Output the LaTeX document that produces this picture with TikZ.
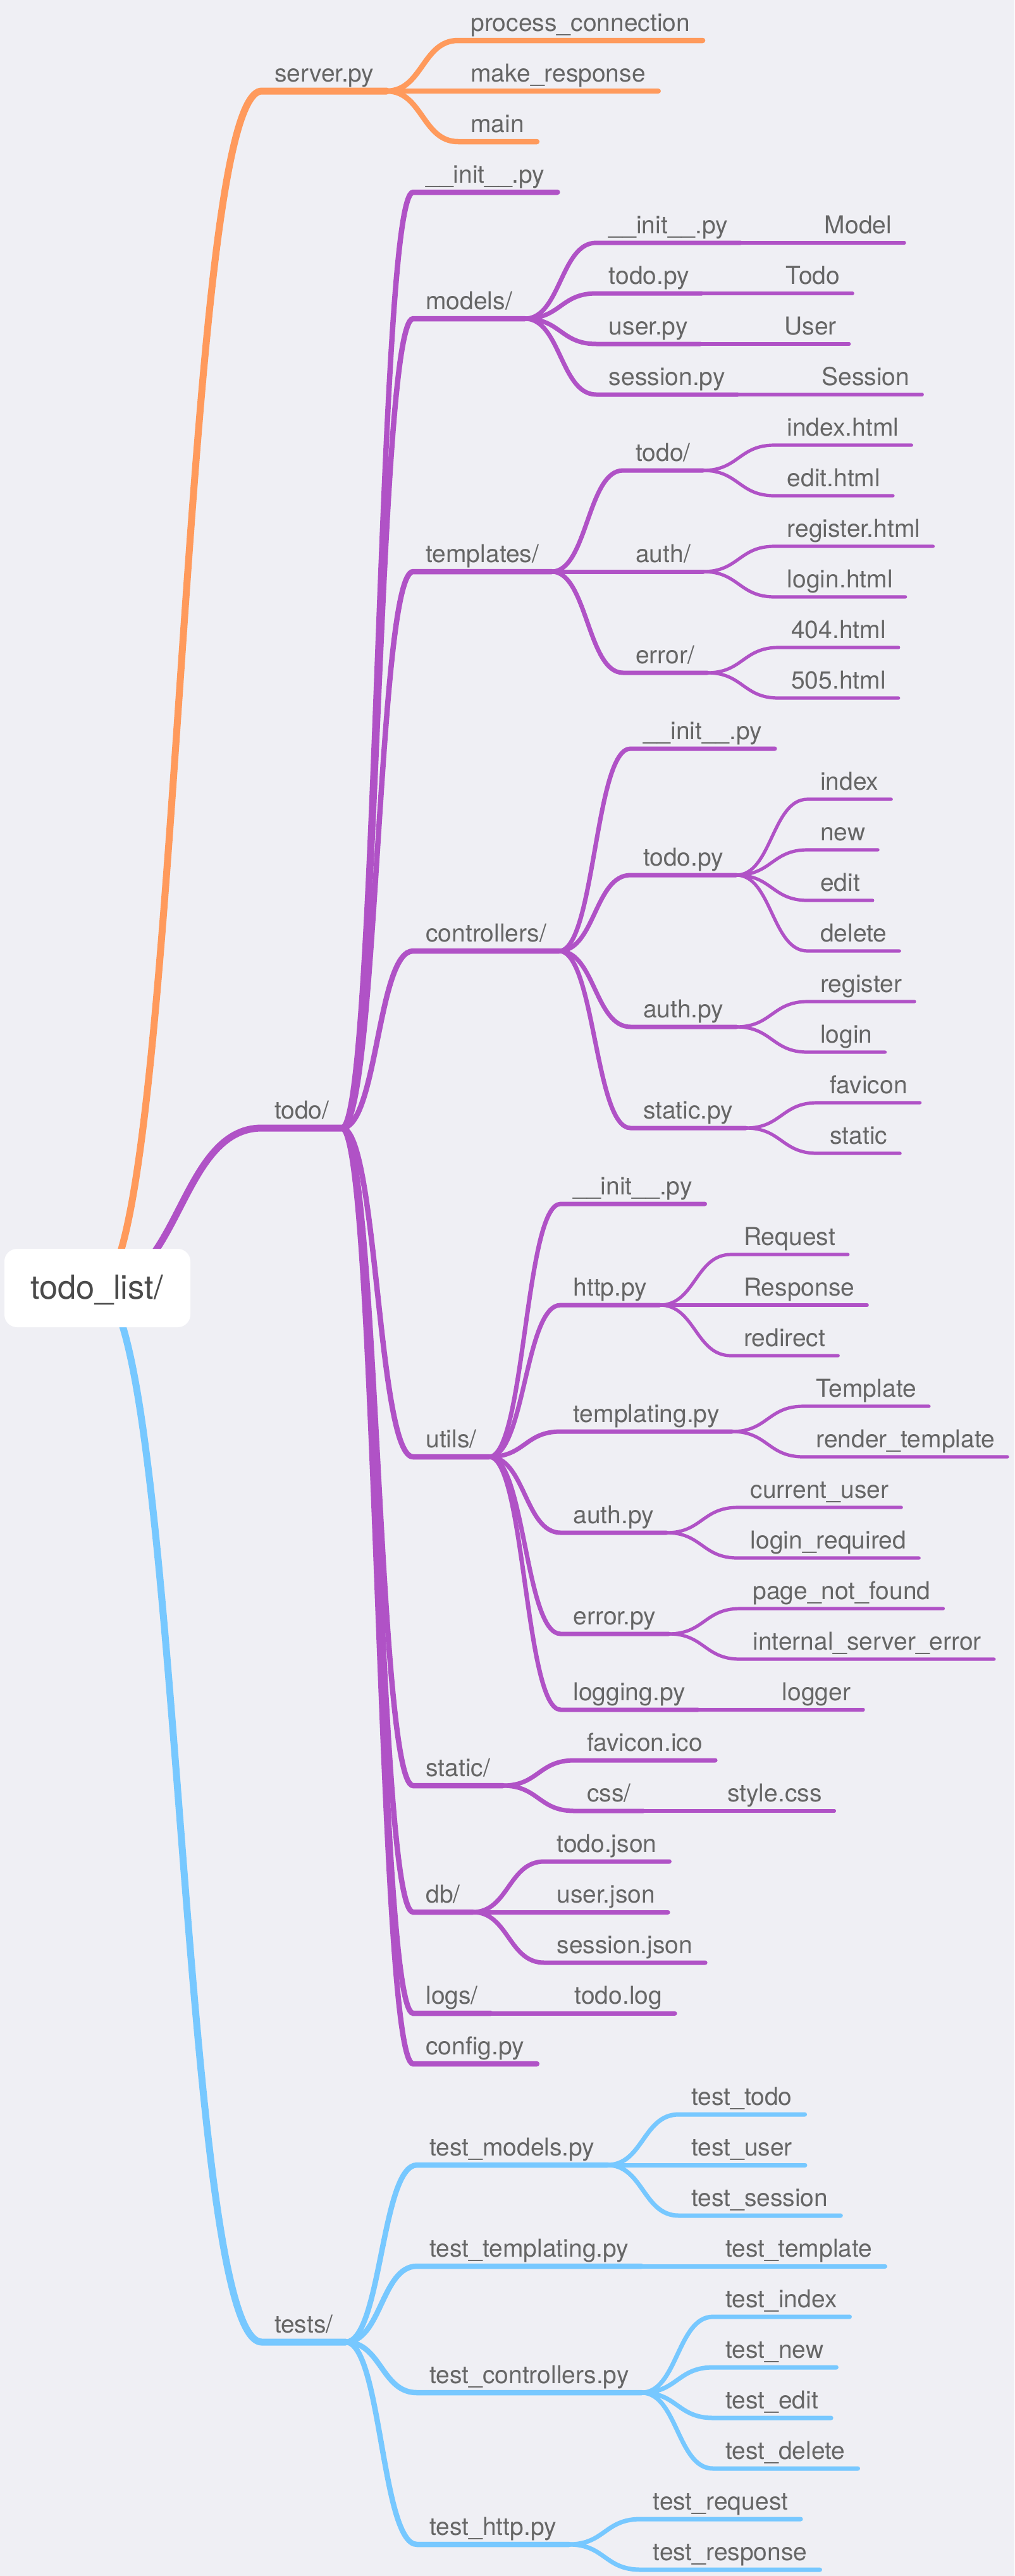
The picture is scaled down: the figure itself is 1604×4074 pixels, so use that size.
\documentclass[tikz,border=0pt]{standalone}
\usepackage{fontspec}
\setmainfont{TeX Gyre Heros}
\usetikzlibrary{calc}
\definecolor{bgc}{RGB}{239,239,244}
\definecolor{cor}{RGB}{255,154,92}
\definecolor{cpu}{RGB}{176,82,198}
\definecolor{cbl}{RGB}{119,200,255}
\definecolor{ctx}{RGB}{102,102,102}
\definecolor{crt}{RGB}{74,74,74}
\tikzset{
  lbl/.style={font=\fontsize{39}{47}\selectfont, text=ctx, inner xsep=20pt, inner ysep=0pt, outer sep=0pt},
  lwa/.style={line width=11pt, line cap=round},
  lwb/.style={line width=8.5pt, line cap=round},
  lwc/.style={line width=7pt, line cap=round},
  lwd/.style={line width=5.2pt, line cap=round},
}
\newcommand\gapx{113pt}
% #1 name, #2 parent, #3 y, #4 text, #5 style
\newcommand\mm[5]{%
  \path let \p1=(#2-e) in
    coordinate (#1-s) at (\x1+\gapx,-#3pt)
    node[lbl,anchor=base west] (#1) at (\x1+\gapx,-#3pt+14.5pt) {#4};
  \path let \p1=(#1.east) in coordinate (#1-e) at (\x1,-#3pt);
  \coordinate (#1-m) at ($(#2-e)!0.5!(#1-s)$);
  \draw[#5] (#2-e) .. controls (#1-m |- #2-e) and (#1-m |- #1-s) .. (#1-s) -- (#1-e);
}
\begin{document}
\begin{tikzpicture}
\useasboundingbox (0pt,0pt) rectangle (1604pt,-4074pt);
\fill[bgc] (0pt,0pt) rectangle (1604pt,-4074pt);
\coordinate (root-e) at (154pt,-2037pt);
% level 1
\renewcommand\gapx{260pt}
\mm{srv}{root}{144}{server.py}{cor,lwa}
\mm{td}{root}{1784}{todo/}{cpu,lwa}
\mm{tst}{root}{3704}{tests/}{cbl,lwa}
\renewcommand\gapx{113pt}
% server.py
\mm{pc}{srv}{64}{process\_connection}{cor,lwb}
\mm{mr}{srv}{144}{make\_response}{cor,lwb}
\mm{mn}{srv}{224}{main}{cor,lwb}
% todo/
\mm{tinit}{td}{304}{\_\_init\_\_.py}{cpu,lwb}
\mm{mod}{td}{504}{models/}{cpu,lwb}
\mm{tpl}{td}{904}{templates/}{cpu,lwb}
\mm{ctl}{td}{1504}{controllers/}{cpu,lwb}
\mm{utl}{td}{2304}{utils/}{cpu,lwb}
\mm{sta}{td}{2824}{static/}{cpu,lwb}
\mm{db}{td}{3024}{db/}{cpu,lwb}
\mm{logs}{td}{3184}{logs/}{cpu,lwb}
\mm{cfg}{td}{3264}{config.py}{cpu,lwb}
% models/
\mm{minit}{mod}{384}{\_\_init\_\_.py}{cpu,lwc}
\mm{mtodo}{mod}{464}{todo.py}{cpu,lwc}
\mm{muser}{mod}{544}{user.py}{cpu,lwc}
\mm{msess}{mod}{624}{session.py}{cpu,lwc}
\mm{mmodel}{minit}{384}{Model}{cpu,lwd}
\mm{mTodo}{mtodo}{464}{Todo}{cpu,lwd}
\mm{mUser}{muser}{544}{User}{cpu,lwd}
\mm{mSess}{msess}{624}{Session}{cpu,lwd}
% templates/
\mm{ttodo}{tpl}{744}{todo/}{cpu,lwc}
\mm{tauth}{tpl}{904}{auth/}{cpu,lwc}
\mm{terr}{tpl}{1064}{error/}{cpu,lwc}
\mm{tidx}{ttodo}{704}{index.html}{cpu,lwd}
\mm{tedit}{ttodo}{784}{edit.html}{cpu,lwd}
\mm{treg}{tauth}{864}{register.html}{cpu,lwd}
\mm{tlog}{tauth}{944}{login.html}{cpu,lwd}
\mm{tfour}{terr}{1024}{404.html}{cpu,lwd}
\mm{tfive}{terr}{1104}{505.html}{cpu,lwd}
% controllers/
\mm{cinit}{ctl}{1184}{\_\_init\_\_.py}{cpu,lwc}
\mm{ctodo}{ctl}{1384}{todo.py}{cpu,lwc}
\mm{cauth}{ctl}{1624}{auth.py}{cpu,lwc}
\mm{cstat}{ctl}{1784}{static.py}{cpu,lwc}
\mm{cidx}{ctodo}{1264}{index}{cpu,lwd}
\mm{cnew}{ctodo}{1344}{new}{cpu,lwd}
\mm{cedit}{ctodo}{1424}{edit}{cpu,lwd}
\mm{cdel}{ctodo}{1504}{delete}{cpu,lwd}
\mm{creg}{cauth}{1584}{register}{cpu,lwd}
\mm{clog}{cauth}{1664}{login}{cpu,lwd}
\mm{cfav}{cstat}{1744}{favicon}{cpu,lwd}
\mm{cst}{cstat}{1824}{static}{cpu,lwd}
% utils/
\mm{uinit}{utl}{1904}{\_\_init\_\_.py}{cpu,lwc}
\mm{uhttp}{utl}{2064}{http.py}{cpu,lwc}
\mm{utpl}{utl}{2264}{templating.py}{cpu,lwc}
\mm{uauth}{utl}{2424}{auth.py}{cpu,lwc}
\mm{uerr}{utl}{2584}{error.py}{cpu,lwc}
\mm{ulog}{utl}{2704}{logging.py}{cpu,lwc}
\mm{ureq}{uhttp}{1984}{Request}{cpu,lwd}
\mm{uresp}{uhttp}{2064}{Response}{cpu,lwd}
\mm{uredir}{uhttp}{2144}{redirect}{cpu,lwd}
\mm{utmpl}{utpl}{2224}{Template}{cpu,lwd}
\mm{urend}{utpl}{2304}{render\_template}{cpu,lwd}
\mm{ucur}{uauth}{2384}{current\_user}{cpu,lwd}
\mm{ulreq}{uauth}{2464}{login\_required}{cpu,lwd}
\mm{upnf}{uerr}{2544}{page\_not\_found}{cpu,lwd}
\mm{uise}{uerr}{2624}{internal\_server\_error}{cpu,lwd}
\mm{ulogger}{ulog}{2704}{logger}{cpu,lwd}
% static/
\mm{sfav}{sta}{2784}{favicon.ico}{cpu,lwc}
\mm{scss}{sta}{2864}{css/}{cpu,lwc}
\mm{sstyle}{scss}{2864}{style.css}{cpu,lwd}
% db/
\mm{dtodo}{db}{2944}{todo.json}{cpu,lwc}
\mm{duser}{db}{3024}{user.json}{cpu,lwc}
\mm{dsess}{db}{3104}{session.json}{cpu,lwc}
% logs/
\mm{ltodo}{logs}{3184}{todo.log}{cpu,lwc}
% tests/
\mm{tmod}{tst}{3424}{test\_models.py}{cbl,lwb}
\mm{ttpl}{tst}{3584}{test\_templating.py}{cbl,lwb}
\mm{tctl}{tst}{3784}{test\_controllers.py}{cbl,lwb}
\mm{thttp}{tst}{4024}{test\_http.py}{cbl,lwb}
\mm{tmtodo}{tmod}{3344}{test\_todo}{cbl,lwc}
\mm{tmuser}{tmod}{3424}{test\_user}{cbl,lwc}
\mm{tmsess}{tmod}{3504}{test\_session}{cbl,lwc}
\mm{tttpl}{ttpl}{3584}{test\_template}{cbl,lwc}
\mm{tcidx}{tctl}{3664}{test\_index}{cbl,lwc}
\mm{tcnew}{tctl}{3744}{test\_new}{cbl,lwc}
\mm{tcedit}{tctl}{3824}{test\_edit}{cbl,lwc}
\mm{tcdel}{tctl}{3904}{test\_delete}{cbl,lwc}
\mm{threq}{thttp}{3984}{test\_request}{cbl,lwc}
\mm{thresp}{thttp}{4064}{test\_response}{cbl,lwc}
% root
\node[fill=white, rounded corners=20pt, minimum width=294pt, minimum height=124pt, inner sep=0pt] (root) at (154pt,-2037pt) {};
\node[font=\fontsize{52.5}{60}\selectfont, text=crt, anchor=base, inner sep=0pt] (roottxt) at (153pt,-2054pt) {todo\_list/};
\end{tikzpicture}
\end{document}
